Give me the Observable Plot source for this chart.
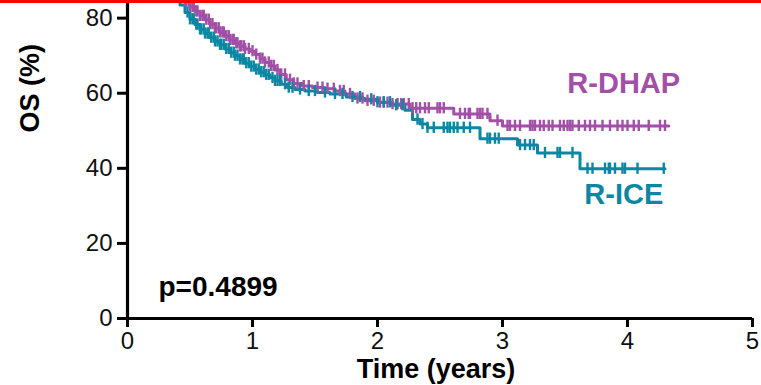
<!DOCTYPE html>
<html>
<head>
<meta charset="utf-8">
<script src="https://cdn.jsdelivr.net/npm/d3@7"></script>
<script src="https://cdn.jsdelivr.net/npm/@observablehq/plot@0.6"></script>
<style>
  html, body { margin: 0; padding: 0; background: #fff; }
  #wrap { position: relative; width: 761px; height: 385px; overflow: hidden; }
  #redbar { position: absolute; left: 0; top: 0; width: 761px; height: 3px; background: #ff0000; z-index: 2; }
  svg { font-family: "Liberation Sans", Arial, sans-serif; }
</style>
</head>
<body>
<div id="wrap"><div id="redbar"></div><div id="chart"></div></div>
<script>
// R-DHAP Kaplan-Meier steps (time in years, overall survival %)
const dhapTime = [0, 0.08, 0.15, 0.22, 0.28, 0.33, 0.38, 0.42, 0.46, 0.50, 0.54, 0.58, 0.62, 0.66, 0.70, 0.74, 0.78, 0.82, 0.86, 0.90, 0.94, 0.98, 1.02, 1.06, 1.10, 1.14, 1.18, 1.22, 1.27, 1.33, 1.40, 1.48, 1.57, 1.66, 1.74, 1.82, 1.90, 2.00, 2.12, 2.26, 2.61, 2.90, 3.00, 4.33];
const dhapSurv = [100, 98.5, 96.5, 94, 92, 90, 88, 86.5, 84.5, 83, 81.8, 80.6, 79.6, 78.4, 77.3, 76.2, 75.2, 74.2, 73.3, 72.5, 71.8, 71.2, 70.3, 69.2, 68.2, 67.3, 66.2, 65, 63.6, 62.6, 61.9, 61.5, 61.2, 60.6, 59.8, 58.6, 58.0, 57.5, 57.1, 56.0, 54.5, 52.7, 51.3, 51.3];
const dhapCensor = [0.46, 0.47, 0.49, 0.50, 0.52, 0.53, 0.55, 0.56, 0.58, 0.60, 0.61, 0.63, 0.65, 0.66, 0.68, 0.70, 0.71, 0.73, 0.74, 0.76, 0.77, 0.79, 0.81, 0.82, 0.84, 0.85, 0.87, 0.88, 0.90, 0.91, 0.93, 0.94, 0.97, 1.00, 1.03, 1.06, 1.08, 1.10, 1.13, 1.15, 1.17, 1.20, 1.23, 1.26, 1.30, 1.33, 1.36, 1.41, 1.45, 1.52, 1.56, 1.60, 1.65, 1.70, 1.73, 1.78, 1.84, 1.88, 1.92, 1.97, 2.02, 2.05, 2.08, 2.12, 2.16, 2.19, 2.21, 2.25, 2.28, 2.31, 2.34, 2.38, 2.41, 2.48, 2.50, 2.53, 2.66, 2.70, 2.73, 2.74, 2.80, 2.82, 2.84, 2.88, 2.96, 3.04, 3.06, 3.10, 3.14, 3.22, 3.24, 3.26, 3.30, 3.33, 3.37, 3.40, 3.46, 3.49, 3.52, 3.54, 3.56, 3.61, 3.66, 3.70, 3.74, 3.80, 3.86, 3.92, 3.96, 4.00, 4.05, 4.09, 4.17, 4.26, 4.30];

// R-ICE Kaplan-Meier steps
const iceTime = [0, 0.08, 0.15, 0.22, 0.28, 0.33, 0.38, 0.42, 0.46, 0.50, 0.54, 0.58, 0.62, 0.66, 0.70, 0.74, 0.78, 0.82, 0.86, 0.90, 0.94, 0.98, 1.02, 1.06, 1.10, 1.14, 1.18, 1.23, 1.28, 1.34, 1.42, 1.52, 1.62, 1.75, 1.88, 2.00, 2.12, 2.22, 2.28, 2.34, 2.40, 2.82, 3.12, 3.28, 3.62, 4.30];
const iceSurv = [100, 98, 95.5, 93, 90.5, 88, 85.5, 83.5, 81.5, 79.7, 78.3, 77, 75.9, 74.8, 73.8, 72.9, 71.8, 70.8, 70.0, 69.0, 68.0, 67.1, 66.3, 65.6, 64.9, 64.1, 63.3, 62.4, 61.5, 61.0, 60.6, 60.2, 59.8, 59.0, 58.4, 57.6, 56.8, 55.5, 53.0, 51.8, 50.8, 47.9, 46.2, 44.1, 39.9, 39.9];
const iceCensor = [0.48, 0.50, 0.52, 0.53, 0.55, 0.56, 0.58, 0.59, 0.61, 0.62, 0.64, 0.65, 0.67, 0.69, 0.70, 0.72, 0.74, 0.75, 0.77, 0.79, 0.81, 0.83, 0.85, 0.86, 0.88, 0.90, 0.92, 0.93, 0.95, 0.97, 0.99, 1.01, 1.03, 1.05, 1.07, 1.09, 1.11, 1.13, 1.16, 1.18, 1.20, 1.22, 1.26, 1.29, 1.32, 1.38, 1.45, 1.50, 1.58, 1.66, 1.72, 1.80, 1.86, 1.95, 2.00, 2.05, 2.10, 2.15, 2.20, 2.32, 2.36, 2.40, 2.45, 2.53, 2.56, 2.58, 2.61, 2.64, 2.69, 2.74, 2.88, 2.90, 2.94, 2.97, 3.14, 3.18, 3.22, 3.25, 3.34, 3.44, 3.46, 3.56, 3.68, 3.72, 3.82, 3.85, 3.86, 3.90, 3.96, 3.98, 4.08, 4.29];

const groupNames = ["R-DHAP", "R-ICE"];
const groupColors = ["#a24fa7", "#0b87a3"];
const xTicks = [0, 1, 2, 3, 4, 5];
const yTicks = [0, 20, 40, 60, 80];
const pLabel = ["p=0.4899"];
const xLabel = ["Time (years)"];
const yLabel = ["OS (%)"];

function steps(times, surv, group) {
  return times.map((t, i) => ({t, s: surv[i], group}));
}
function censors(times, stepT, stepS, group) {
  return times.map(t => {
    const i = d3.bisectRight(stepT, t) - 1;
    return {t, s: stepS[Math.max(0, i)], group};
  });
}

const lineData = [...steps(dhapTime, dhapSurv, groupNames[0]), ...steps(iceTime, iceSurv, groupNames[1])];
const censorData = [...censors(dhapCensor, dhapTime, dhapSurv, groupNames[0]), ...censors(iceCensor, iceTime, iceSurv, groupNames[1])];
const labelData = [
  {t: 3.97, s: 62.6, group: groupNames[0]},
  {t: 3.97, s: 33.0, group: groupNames[1]}
];

const color = {domain: groupNames, range: groupColors};
const tickHalf = 1.5;

const chart = Plot.plot({
  width: 761,
  height: 385,
  marginLeft: 127,
  marginRight: 9,
  marginTop: 0,
  marginBottom: 67,
  style: {fontFamily: "'Liberation Sans', Arial, sans-serif", background: "#fff", overflow: "visible"},
  x: {domain: [0, 5], ticks: xTicks},
  y: {domain: [0, 84.7], ticks: yTicks},
  color,
  marks: [
    Plot.axisX({ticks: xTicks, tickSize: 9, tickPadding: 4, fontSize: 24, label: null, stroke: "#000", strokeWidth: 3, color: "#111", tickFormat: d3.format("d")}),
    Plot.axisY({ticks: yTicks, tickSize: 10, tickPadding: 5, fontSize: 24, label: null, stroke: "#000", strokeWidth: 3, color: "#111", tickFormat: d3.format("d")}),
    Plot.line(lineData, {x: "t", y: "s", z: "group", stroke: "group", curve: "step-after", strokeWidth: 3, clip: true}),
    Plot.ruleX(censorData, {x: "t", y1: d => d.s - tickHalf, y2: d => d.s + tickHalf, stroke: "group", strokeWidth: 2.4, clip: true}),
    Plot.ruleX([0], {stroke: "#000", strokeWidth: 3.2}),
    Plot.ruleY([0], {stroke: "#000", strokeWidth: 3.2}),
    Plot.text(labelData, {x: "t", y: "s", text: "group", fill: "group", fontSize: 29, fontWeight: "bold", textAnchor: "middle"}),
    Plot.text(pLabel, {frameAnchor: "bottom-left", dx: 31, dy: -23, text: d => d, fontSize: 28, fontWeight: "bold", fill: "#000", textAnchor: "start"}),
    Plot.text(xLabel, {frameAnchor: "bottom", dx: -4, dy: 59, text: d => d, fontSize: 27, fontWeight: "bold", fill: "#000"}),
    Plot.text(yLabel, {frameAnchor: "left", dx: -97, dy: -27, rotate: -90, text: d => d, fontSize: 27, fontWeight: "bold", fill: "#000"})
  ]
});
document.getElementById("chart").appendChild(chart);
</script>
</body>
</html>
